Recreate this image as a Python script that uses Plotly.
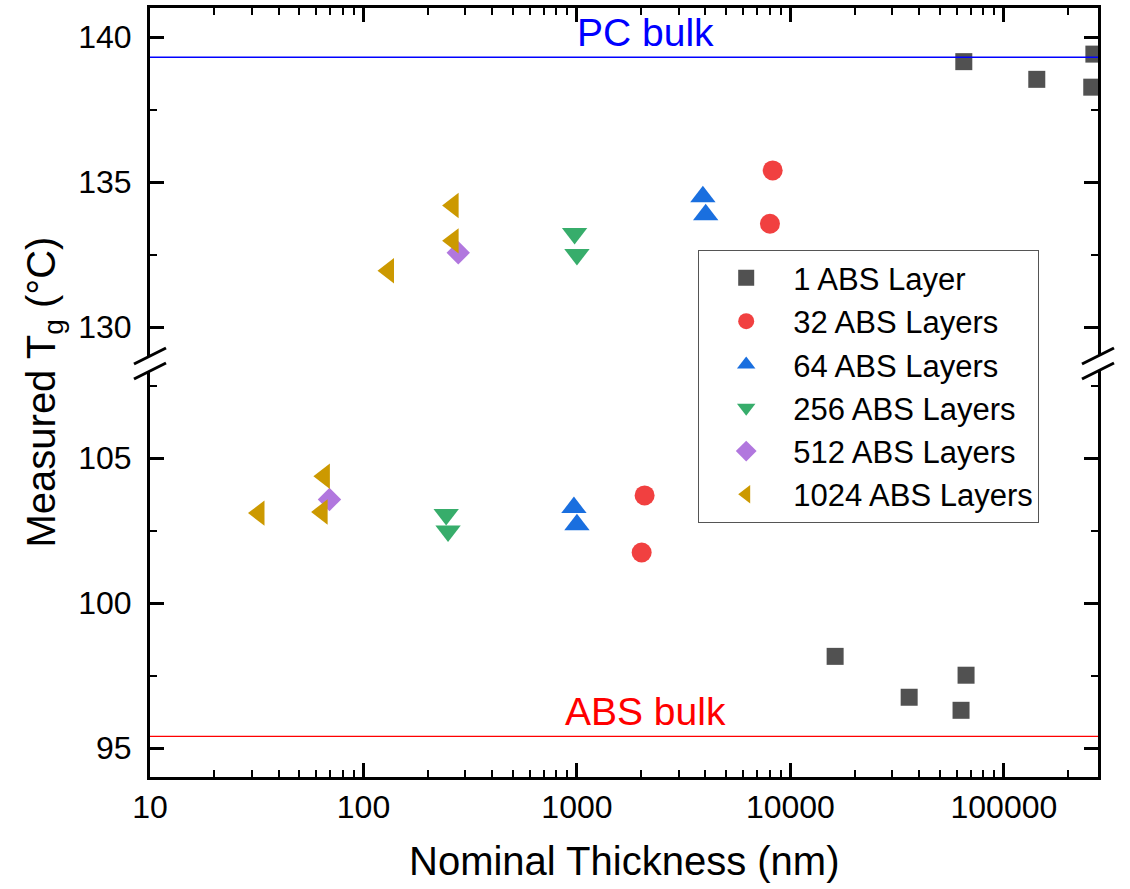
import math
import plotly.graph_objects as go

# ---------------- data ----------------
series_names = ["1 ABS Layer", "32 ABS Layers", "64 ABS Layers",
                "256 ABS Layers", "512 ABS Layers", "1024 ABS Layers"]
series_colors = ["#515151", "#F14040", "#1A6FDF", "#37AD6B", "#B177DE", "#CC9900"]
series_symbols = ["square", "circle", "triangle-up", "triangle-down", "diamond", "triangle-left"]
series_sizes = [17, 20, 22, 22, 18, 22]

thick_1 = [16200, 36000, 63000, 66500, 64900, 142600, 258000, 264000]
tg_1 = [98.16, 96.75, 96.30, 97.51, 139.15, 138.54, 138.27, 139.41]

thick_32 = [2075, 2010, 8260, 8020]
tg_32 = [103.71, 101.74, 135.40, 133.56]

thick_64 = [968, 1000, 3890, 4010]
tg_64 = [103.29, 102.70, 134.49, 133.87]

thick_256 = [244, 249, 975, 1000]
tg_256 = [103.05, 102.48, 133.22, 132.50]

thick_512 = [69.3, 278]
tg_512 = [103.57, 132.56]

thick_1024 = [32.4, 65.6, 64.0, 131, 263, 263]
tg_1024 = [103.10, 104.37, 103.14, 131.94, 134.19, 132.97]

series_x = [thick_1, thick_32, thick_64, thick_256, thick_512, thick_1024]
series_y = [tg_1, tg_32, tg_64, tg_256, tg_512, tg_1024]

pc_bulk = 139.30
abs_bulk = 95.40

x_tickvals = [10, 100, 1000, 10000, 100000]
x_ticktext = ["10", "100", "1000", "10000", "100000"]
x_range = [10, 276000]
low_range = [94, 108]
high_range = [129, 141]
break_value = 120  # values above go into the upper panel

# ---------------- layout geometry ----------------
W, H = 1130, 889
ml, mr, mt, mb = 150, 32, 8, 112
plot_w = W - ml - mr
plot_h = H - mt - mb
low_dom = [0, 406 / plot_h]
high_dom = [(plot_h - 348) / plot_h, 1]

FONT = "Liberation Sans, Arial, sans-serif"

fig = go.Figure()
for name, color, sym, size, xs, ys in zip(series_names, series_colors, series_symbols,
                                          series_sizes, series_x, series_y):
    lo = [(a, b) for a, b in zip(xs, ys) if b < break_value]
    hi = [(a, b) for a, b in zip(xs, ys) if b >= break_value]
    marker = dict(color=color, symbol=sym, size=size, line=dict(width=0))
    fig.add_trace(go.Scatter(x=[p[0] for p in lo], y=[p[1] for p in lo], mode="markers",
                             name=name, marker=marker, xaxis="x", yaxis="y",
                             showlegend=True, cliponaxis=True))
    fig.add_trace(go.Scatter(x=[p[0] for p in hi], y=[p[1] for p in hi], mode="markers",
                             name=name, marker=marker, xaxis="x2", yaxis="y2",
                             showlegend=False, cliponaxis=True))

minor_vals = [m * 10 ** e for e in range(1, 6) for m in range(2, 10)]
axis_common = dict(showline=True, linecolor="black", linewidth=3, ticks="inside",
                   ticklen=14, tickwidth=3, tickcolor="black", showgrid=False,
                   zeroline=False)
xlog = dict(type="log", range=[math.log10(x_range[0]), math.log10(x_range[1])],
            tickmode="array", tickvals=x_tickvals, ticktext=x_ticktext,
            minor=dict(ticks="inside", ticklen=7, tickwidth=2, tickcolor="black",
                       tickmode="array", tickvals=minor_vals, showgrid=False),
            domain=[0, 1])
ymin = dict(ticks="inside", ticklen=7, tickwidth=2, tickcolor="black",
            dtick=2.5, tick0=0, showgrid=False)

fig.update_layout(
    width=W, height=H,
    margin=dict(l=ml, r=mr, t=mt, b=mb),
    paper_bgcolor="white", plot_bgcolor="white",
    font=dict(family=FONT, color="black"),
    xaxis=dict(**axis_common, **xlog, anchor="y", side="bottom", mirror=False,
               tickfont=dict(size=32), ticklabelstandoff=0),
    xaxis2=dict(**axis_common, **xlog, anchor="y2", side="top", mirror=False,
                showticklabels=False, matches="x"),
    yaxis=dict(**axis_common, domain=low_dom, range=low_range, anchor="x",
               mirror="ticks", dtick=5, tick0=0, minor=ymin,
               tickfont=dict(size=32), ticklabelstandoff=9),
    yaxis2=dict(**axis_common, domain=high_dom, range=high_range, anchor="x2",
                mirror="ticks", dtick=5, tick0=0, minor=ymin,
                tickfont=dict(size=32), ticklabelstandoff=9),
    legend=dict(x=(698 - ml) / plot_w, y=(H - mb - 250) / plot_h,
                xanchor="left", yanchor="top",
                bgcolor="white", bordercolor="#555555", borderwidth=1.2,
                font=dict(size=31, family=FONT), itemwidth=84,
                tracegroupgap=0),
    showlegend=True,
)

# bulk reference lines
fig.add_shape(type="line", xref="x2 domain", x0=0, x1=1, yref="y2", y0=pc_bulk, y1=pc_bulk,
              line=dict(color="#0000FF", width=1.4))
fig.add_shape(type="line", xref="x domain", x0=0, x1=1, yref="y", y0=abs_bulk, y1=abs_bulk,
              line=dict(color="#FF0000", width=1.4))

xc = math.log10(2100)
fig.add_annotation(x=xc, y=140.15, xref="x2", yref="y2", text="PC bulk", showarrow=False,
                   font=dict(size=39, color="#0000FF", family=FONT), yanchor="middle")
fig.add_annotation(x=xc, y=96.25, xref="x", yref="y", text="ABS bulk", showarrow=False,
                   font=dict(size=39, color="#FF0000", family=FONT), yanchor="middle")

# axis titles
fig.add_annotation(x=0.5, y=-(861 - (H - mb)) / plot_h, xref="paper", yref="paper",
                   text="Nominal Thickness (nm)", showarrow=False,
                   font=dict(size=40, family=FONT), xanchor="center", yanchor="middle")
fig.add_annotation(x=(43 - ml) / plot_w, y=0.5, xref="paper", yref="paper",
                   text="Measured T<sub>g</sub> (°C)", showarrow=False, textangle=-90,
                   font=dict(size=40, family=FONT), xanchor="center", yanchor="middle")

# axis break marks
dx = 16 / plot_w
dy = 8 / plot_h
for xb in (0, 1):
    for yb in (high_dom[0], low_dom[1]):
        fig.add_shape(type="line", xref="paper", yref="paper",
                      x0=xb - dx, x1=xb + dx, y0=yb - dy, y1=yb + dy,
                      line=dict(color="black", width=3))

fig.write_html("out.html", config={"displayModeBar": False},
               post_script="document.body.style.margin='0px';")
